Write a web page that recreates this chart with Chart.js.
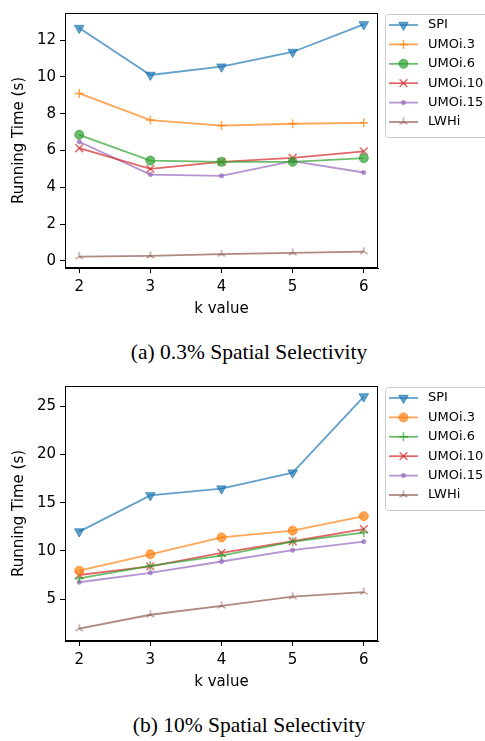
<!DOCTYPE html>
<html>
<head>
<meta charset="utf-8">
<script src="https://cdn.jsdelivr.net/npm/chart.js@4.4.0/dist/chart.umd.min.js"></script>
<style>
body { margin: 0; background: #fff; width: 485px; height: 741px; position: relative; overflow: hidden; }
.box { position: absolute; left: 0; width: 485px; height: 322px; }
.cap { position: absolute; left: 0; width: 498px; text-align: center; font-family: "Liberation Serif"; font-size: 21.5px; line-height: 24px; color: #000; }
</style>
</head>
<body>
<div class="box" style="top:0"><canvas id="chartA"></canvas></div>
<div class="cap" style="top:340px">(a) 0.3% Spatial Selectivity</div>
<div class="box" style="top:373px"><canvas id="chartB"></canvas></div>
<div class="cap" style="top:713px">(b) 10% Spatial Selectivity</div>
<script>
// x axis: k values
var kValues = [2, 3, 4, 5, 6];
var seriesNames = ["SPI", "UMOi.3", "UMOi.6", "UMOi.10", "UMOi.15", "LWHi"];

// (a) 0.3% spatial selectivity
var spiA    = [12.65, 10.1, 10.55, 11.35, 12.85];
var umoi3A  = [9.1, 7.65, 7.35, 7.45, 7.5];
var umoi6A  = [6.85, 5.45, 5.38, 5.38, 5.58];
var umoi10A = [6.12, 5.0, 5.38, 5.6, 5.95];
var umoi15A = [6.47, 4.69, 4.62, 5.42, 4.8];
var lwhiA   = [0.23, 0.27, 0.36, 0.43, 0.5];
var yTicksA = [0, 2, 4, 6, 8, 10, 12];

// (b) 10% spatial selectivity
var spiB    = [12.0, 15.75, 16.45, 18.1, 26.0];
var umoi3B  = [7.95, 9.65, 11.4, 12.1, 13.6];
var umoi6B  = [7.15, 8.45, 9.5, 10.95, 11.9];
var umoi10B = [7.5, 8.4, 9.8, 11.0, 12.25];
var umoi15B = [6.75, 7.73, 8.9, 10.07, 10.96];
var lwhiB   = [1.94, 3.38, 4.3, 5.25, 5.73];
var yTicksB = [5, 10, 15, 20, 25];

var colors = ['rgba(31,119,180,0.7)', 'rgba(255,127,14,0.7)', 'rgba(44,160,44,0.7)',
              'rgba(214,39,40,0.7)', 'rgba(148,103,189,0.7)', 'rgba(140,86,75,0.7)'];
var fontFamily = '"DejaVu Sans"';

// tri_up marker (matplotlib '2')
function triUp(color) {
    var c = document.createElement('canvas');
    c.width = 12; c.height = 12;
    var g = c.getContext('2d');
    g.strokeStyle = color;
    g.lineWidth = 1.2;
    g.beginPath();
    [90, 210, 330].forEach(function (a) {
        var t = a * Math.PI / 180;
        g.moveTo(6, 6);
        g.lineTo(6 + 4.5 * Math.cos(t), 6 - 4.5 * Math.sin(t));
    });
    g.stroke();
    return c;
}

var markers = {
    triDown: { pointStyle: 'triangle', pointRadius: 5.5, pointRotation: 180, pointBorderWidth: 1 },
    plus:    { pointStyle: 'cross', pointRadius: 4.5, pointRotation: 0, pointBorderWidth: 1.5 },
    circle:  { pointStyle: 'circle', pointRadius: 4.5, pointRotation: 0, pointBorderWidth: 1 },
    xmark:   { pointStyle: 'crossRot', pointRadius: 5.5, pointRotation: 0, pointBorderWidth: 1.5 },
    dot:     { pointStyle: 'circle', pointRadius: 2.3, pointRotation: 0, pointBorderWidth: 0.5 },
    triUp:   { pointStyle: null, pointRadius: 5, pointRotation: 0, pointBorderWidth: 1 }
};

var framePlugin = {
    id: 'frame',
    afterDraw: function (chart) {
        var a = chart.chartArea, ctx = chart.ctx;
        ctx.save();
        ctx.strokeStyle = '#000';
        ctx.lineWidth = 1;
        ctx.strokeRect(Math.round(a.left) + 0.5, Math.round(a.top) + 0.5,
                       Math.round(a.width) - 1, Math.round(a.height) - 1);
        ctx.restore();
    }
};

var legendPlugin = {
    id: 'legendBox',
    afterDraw: function (chart) {
        var ctx = chart.ctx;
        var x0 = 385, y0 = 14, w = 110, h = 123, row = 19.4;
        ctx.save();
        ctx.fillStyle = 'rgba(255,255,255,0.8)';
        ctx.strokeStyle = '#cccccc';
        ctx.lineWidth = 1;
        ctx.beginPath();
        ctx.roundRect(x0 + 0.5, y0 + 0.5, w, h, 3);
        ctx.fill();
        ctx.stroke();
        chart.data.datasets.forEach(function (ds, i) {
            var y = y0 + 11 + i * row;
            ctx.strokeStyle = ds.borderColor;
            ctx.lineWidth = ds.borderWidth;
            ctx.beginPath();
            ctx.moveTo(389, y);
            ctx.lineTo(418, y);
            ctx.stroke();
            ctx.fillStyle = ds.pointBackgroundColor;
            ctx.strokeStyle = ds.pointBorderColor;
            ctx.lineWidth = ds.pointBorderWidth;
            Chart.helpers.drawPoint(ctx, {
                pointStyle: ds.pointStyle, radius: ds.pointRadius,
                rotation: ds.pointRotation, borderWidth: ds.pointBorderWidth
            }, 403.5, y);
            ctx.fillStyle = '#000';
            ctx.font = '13px ' + fontFamily;
            ctx.textBaseline = 'middle';
            ctx.fillText(ds.label, 428, y);
        });
        ctx.restore();
    }
};

function makeChart(id, series, markerNames, yMin, yMax, yTicks) {
    var datasets = series.map(function (vals, i) {
        var m = markers[markerNames[i]];
        return {
            label: seriesNames[i],
            data: kValues.map(function (k, j) { return { x: k, y: vals[j] }; }),
            borderColor: colors[i],
            borderWidth: 1.8,
            fill: false,
            tension: 0,
            pointStyle: markerNames[i] === 'triUp' ? triUp(colors[i]) : m.pointStyle,
            pointRadius: m.pointRadius,
            pointRotation: m.pointRotation,
            pointBorderWidth: m.pointBorderWidth,
            pointBackgroundColor: colors[i],
            pointBorderColor: colors[i]
        };
    });
    var tickFont = { family: fontFamily, size: 15 };
    return new Chart(document.getElementById(id), {
        type: 'line',
        data: { datasets: datasets },
        options: {
            responsive: true,
            maintainAspectRatio: false,
            animation: false,
            layout: { padding: { left: 6, right: 107, top: 7, bottom: 0 } },
            plugins: { legend: { display: false }, tooltip: { enabled: false } },
            scales: {
                x: {
                    type: 'linear', min: 1.8, max: 6.2,
                    afterBuildTicks: function (s) { s.ticks = kValues.map(function (v) { return { value: v }; }); },
                    afterFit: function (s) { s.height = 54; },
                    ticks: { color: '#000', font: tickFont, padding: 5 },
                    grid: { drawOnChartArea: false, tickLength: 5, color: '#000' },
                    border: { color: '#000', width: 1 },
                    title: { display: true, text: 'k value', color: '#000', font: tickFont, padding: { top: 0, bottom: 4 } }
                },
                y: {
                    type: 'linear', min: yMin, max: yMax,
                    afterBuildTicks: function (s) { s.ticks = yTicks.map(function (v) { return { value: v }; }); },
                    afterFit: function (s) { s.width = 59; },
                    ticks: { color: '#000', font: tickFont, padding: 4 },
                    grid: { drawOnChartArea: false, tickLength: 5, color: '#000' },
                    border: { color: '#000', width: 1 },
                    title: { display: true, text: 'Running Time (s)', color: '#000', font: tickFont, padding: { top: 4, bottom: 0 } }
                }
            }
        },
        plugins: [framePlugin, legendPlugin]
    });
}

makeChart('chartA', [spiA, umoi3A, umoi6A, umoi10A, umoi15A, lwhiA],
          ['triDown', 'plus', 'circle', 'xmark', 'dot', 'triUp'], -0.39, 13.47, yTicksA);
makeChart('chartB', [spiB, umoi3B, umoi6B, umoi10B, umoi15B, lwhiB],
          ['triDown', 'circle', 'plus', 'xmark', 'dot', 'triUp'], 0.66, 27.09, yTicksB);
</script>
</body>
</html>
